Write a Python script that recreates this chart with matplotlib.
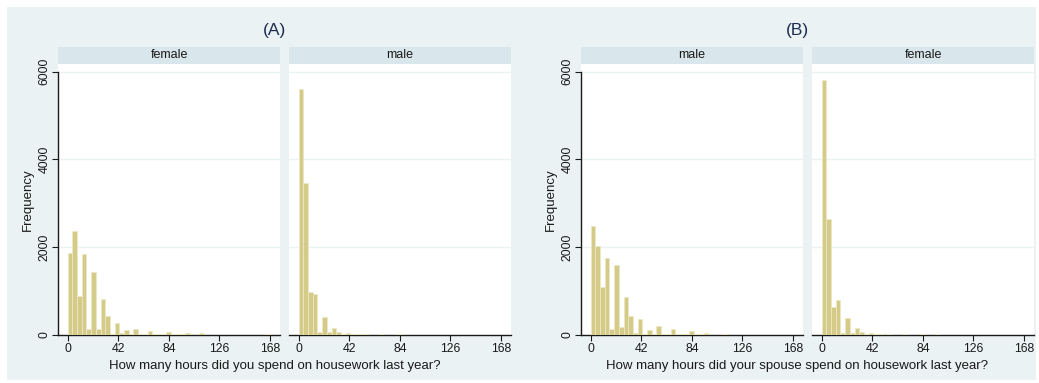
import numpy as np
import matplotlib
matplotlib.use("Agg")
import matplotlib.pyplot as plt

plt.rcParams['font.family'] = ['Liberation Sans', 'DejaVu Sans']

# ---------------- data ----------------
N_BINS = 43
X_MAX = 168
x_ticks = [0, 42, 84, 126, 168]
y_ticks = [0, 2000, 4000, 6000]

panel_titles = ["(A)", "(B)"]
x_titles = ["How many hours did you spend on housework last year?",
            "How many hours did your spouse spend on housework last year?"]
strip_labels = [["female", "male"], ["male", "female"]]

a_female = [1860, 2365, 890, 1847, 137, 1430, 137, 828, 433, 25,
            274, 35, 107, 20, 135, 30, 20, 90, 20, 15,
            15, 60, 15, 20, 20, 35, 10, 10, 35, 5,
            5, 5, 4, 4, 4, 4, 3, 3, 3, 3,
            3, 3, 15]
a_male = [5610, 3470, 988, 935, 76, 403, 76, 160, 60, 23,
          45, 20, 30, 15, 30, 10, 8, 20, 5, 5,
          5, 15, 5, 5, 5, 10, 3, 3, 5, 2,
          2, 2, 2, 2, 2, 2, 2, 2, 2, 2,
          2, 2, 3]
b_male = [2485, 2030, 1088, 1755, 137, 1590, 175, 873, 426, 38,
          357, 25, 121, 25, 200, 30, 20, 130, 20, 20,
          20, 85, 15, 15, 45, 10, 10, 8, 25, 5,
          4, 4, 4, 4, 3, 3, 3, 3, 3, 3,
          3, 3, 8]
b_female = [5800, 2650, 630, 800, 45, 395, 40, 150, 60, 20,
            45, 15, 30, 10, 20, 8, 5, 15, 4, 4,
            4, 12, 5, 5, 15, 3, 2, 2, 4, 2,
            2, 2, 2, 2, 2, 2, 2, 2, 2, 2,
            2, 2, 3]
panel_data = [[a_female, a_male], [b_male, b_female]]

# ---------------- style ----------------
W, H = 1039, 383
BG = '#EAF2F3'
STRIP = '#D9E6EB'
BAR = '#D4CB88'
BAR_EDGE = '#ECE7C4'
TXT = '#1a1a1a'
TITLE = '#1E2D4F'

fig = plt.figure(figsize=(W / 100, H / 100), dpi=100)
fig.patch.set_facecolor('white')


def rect(l, t, r, b):
    return [l / W, 1 - b / H, (r - l) / W, (b - t) / H]


bgax = fig.add_axes(rect(7, 7, 1036, 380), zorder=-10)
bgax.set_facecolor(BG)
bgax.set_xticks([])
bgax.set_yticks([])
for sp in bgax.spines.values():
    sp.set_visible(False)

edges = np.linspace(0, X_MAX, N_BINS + 1)
bw = edges[1] - edges[0]

px_per_unit = (335 - 71.7) / 6000.0
PLOT_TOP, PLOT_BOT = 64, 335
ymax = (PLOT_BOT - PLOT_TOP) / px_per_unit
sub_w = 222
xpad_l, xpad_r = 9.6, 10.0
scale = (sub_w - xpad_l - xpad_r) / X_MAX
xlim = (-xpad_l / scale, X_MAX + xpad_r / scale)

panel_lefts = [[58, 289], [581, 812]]
title_cx = [275, 797]

for p in range(2):
    for s in range(2):
        l = panel_lefts[p][s]
        r = l + sub_w
        ax = fig.add_axes(rect(l, PLOT_TOP, r, PLOT_BOT))
        ax.set_facecolor('white')
        vals = panel_data[p][s]
        ax.bar(edges[:-1], vals, width=bw, align='edge', color=BAR,
               edgecolor=BAR_EDGE, linewidth=0.6, zorder=3)
        ax.set_xlim(*xlim)
        ax.set_ylim(0, ymax)
        for yv in y_ticks[1:]:
            ax.axhline(yv, color=BG, linewidth=1.0, zorder=1)
        for sp in ['top', 'right']:
            ax.spines[sp].set_visible(False)
        ax.spines['bottom'].set_color(TXT)
        ax.spines['bottom'].set_linewidth(1.0)
        ax.set_xticks(x_ticks)
        ax.set_xticklabels([str(t) for t in x_ticks], fontsize=8.8, color=TXT)
        ax.tick_params(axis='x', length=4, width=0.8, color=TXT, pad=2)
        if s == 0:
            ax.spines['left'].set_bounds(0, 6000)
            ax.spines['left'].set_color(TXT)
            ax.spines['left'].set_linewidth(1.0)
            ax.set_yticks(y_ticks)
            ax.set_yticklabels([str(t) for t in y_ticks], fontsize=8.8,
                               color=TXT, rotation=90, va='center')
            ax.tick_params(axis='y', length=4, width=0.8, color=TXT, pad=1.5)
            ax.set_ylabel("Frequency", fontsize=9.5, color=TXT, labelpad=3)
        else:
            ax.spines['left'].set_visible(False)
            ax.set_yticks([])
        # strip
        sax = fig.add_axes(rect(l, 46.7, r, 64))
        sax.set_facecolor(STRIP)
        sax.set_xticks([])
        sax.set_yticks([])
        for sp in sax.spines.values():
            sp.set_visible(False)
        sax.text(0.5, 0.5, strip_labels[p][s], ha='center', va='center',
                 fontsize=9, color=TXT, transform=sax.transAxes)
    fig.text(title_cx[p] / W, 1 - 31 / H, panel_titles[p], ha='center',
             va='center', fontsize=12.5, color=TITLE)
    fig.text(title_cx[p] / W, 1 - 366 / H, x_titles[p], ha='center',
             va='center', fontsize=9.5, color=TXT)

fig.savefig("out.png", dpi=100, facecolor='white')
